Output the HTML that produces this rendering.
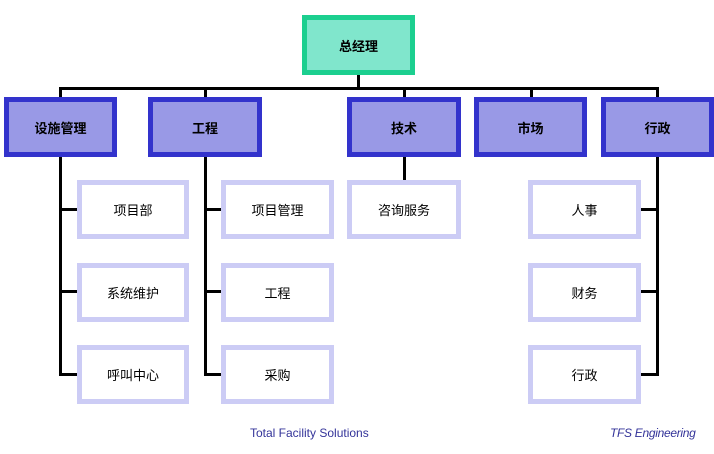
<!DOCTYPE html>
<html><head><meta charset="utf-8"><style>
body{margin:0;width:714px;height:454px;background:#fff;position:relative;overflow:hidden;font-family:"Liberation Sans","Noto Sans CJK SC",sans-serif}
.b{position:absolute;box-sizing:border-box;display:flex;align-items:center;justify-content:center;font-size:13px;color:#000}
.top{background:#80e6cc;border:5px solid #1ccf8f;font-weight:bold}
.l2{background:#9999e6;border:5px solid #3333cc;font-weight:bold;height:60px;top:97px}
.s{background:#fff;border:5px solid #ccccf5;height:59px}
.h{position:absolute;background:#000;height:3px}
.v{position:absolute;background:#000;width:3px}
.t{position:absolute;font-size:12px;color:#333399}
</style></head><body>
<div class="v" style="left:357px;top:74px;height:14px"></div>
<div class="h" style="left:59px;top:87px;width:600px"></div>
<div class="v" style="left:59px;top:87px;height:289px"></div>
<div class="v" style="left:204px;top:87px;height:289px"></div>
<div class="v" style="left:403px;top:87px;height:93px"></div>
<div class="v" style="left:530px;top:87px;height:12px"></div>
<div class="v" style="left:656px;top:87px;height:289px"></div>
<div class="h" style="left:59px;top:208px;width:20px"></div>
<div class="h" style="left:59px;top:290px;width:20px"></div>
<div class="h" style="left:59px;top:373px;width:20px"></div>
<div class="h" style="left:204px;top:208px;width:20px"></div>
<div class="h" style="left:204px;top:290px;width:20px"></div>
<div class="h" style="left:204px;top:373px;width:20px"></div>
<div class="h" style="left:638px;top:208px;width:20px"></div>
<div class="h" style="left:638px;top:290px;width:20px"></div>
<div class="h" style="left:638px;top:373px;width:20px"></div>

<div class="b top" style="left:302px;top:15px;width:113px;height:60px">总经理</div>
<div class="b l2" style="left:4px;width:113px">设施管理</div>
<div class="b l2" style="left:148px;width:114px">工程</div>
<div class="b l2" style="left:347px;width:114px">技术</div>
<div class="b l2" style="left:474px;width:113px">市场</div>
<div class="b l2" style="left:601px;width:113px">行政</div>

<div class="b s" style="left:77px;top:180px;width:112px">项目部</div>
<div class="b s" style="left:77px;top:263px;width:112px">系统维护</div>
<div class="b s" style="left:77px;top:345px;width:112px">呼叫中心</div>
<div class="b s" style="left:221px;top:180px;width:113px">项目管理</div>
<div class="b s" style="left:221px;top:263px;width:113px">工程</div>
<div class="b s" style="left:221px;top:345px;width:113px">采购</div>
<div class="b s" style="left:347px;top:180px;width:114px">咨询服务</div>
<div class="b s" style="left:528px;top:180px;width:113px">人事</div>
<div class="b s" style="left:528px;top:263px;width:113px">财务</div>
<div class="b s" style="left:528px;top:345px;width:113px">行政</div>

<div class="t" style="left:250px;top:426px">Total Facility Solutions</div>
<div class="t" style="left:610px;top:426px;font-style:italic;letter-spacing:-0.3px">TFS Engineering</div>
</body></html>
